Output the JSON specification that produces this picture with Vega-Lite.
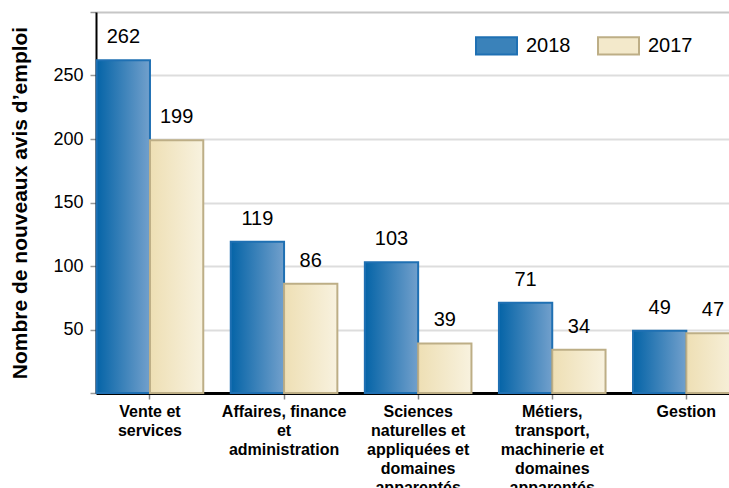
{
  "$schema": "https://vega.github.io/schema/vega-lite/v6.json",
  "autosize": {"type": "none"},
  "width": 633,
  "height": 381,
  "padding": {"left": 96, "top": 12, "right": 0, "bottom": 95},
  "config": {
    "font": "Liberation Sans",
    "view": {"stroke": null},
    "background": "#ffffff"
  },
  "data": {
    "values": [
      {"categorie": "Vente et|services", "annee": "2018", "valeur": 262},
      {"categorie": "Vente et|services", "annee": "2017", "valeur": 199},
      {"categorie": "Affaires, finance|et|administration", "annee": "2018", "valeur": 119},
      {"categorie": "Affaires, finance|et|administration", "annee": "2017", "valeur": 86},
      {"categorie": "Sciences|naturelles et|appliquées et|domaines|apparentés", "annee": "2018", "valeur": 103},
      {"categorie": "Sciences|naturelles et|appliquées et|domaines|apparentés", "annee": "2017", "valeur": 39},
      {"categorie": "Métiers,|transport,|machinerie et|domaines|apparentés", "annee": "2018", "valeur": 71},
      {"categorie": "Métiers,|transport,|machinerie et|domaines|apparentés", "annee": "2017", "valeur": 34},
      {"categorie": "Gestion", "annee": "2018", "valeur": 49},
      {"categorie": "Gestion", "annee": "2017", "valeur": 47}
    ]
  },
  "encoding": {
    "x": {
      "field": "categorie",
      "type": "nominal",
      "sort": null,
      "scale": {"range": [0, 644.3], "paddingInner": 0.205, "paddingOuter": 0.005},
      "axis": {
        "title": null,
        "labelAngle": 0,
        "labelExpr": "split(datum.label, '|')",
        "labelFontSize": 16,
        "labelFontWeight": "bold",
        "labelLineHeight": 19,
        "labelColor": "#000000",
        "labelPadding": 4,
        "labelLimit": 0,
        "tickSize": 6,
        "tickColor": "#888888",
        "tickWidth": 1.5,
        "domainColor": "#000000",
        "domainWidth": 3,
        "grid": false
      }
    },
    "xOffset": {
      "field": "annee",
      "type": "nominal",
      "scale": {"domain": ["2018", "2017"], "paddingInner": 0, "paddingOuter": 0}
    },
    "y": {
      "field": "valeur",
      "type": "quantitative",
      "scale": {"domain": [0, 300], "nice": false},
      "axis": {
        "title": "Nombre de nouveaux avis d’emploi",
        "titleFontSize": 21,
        "titleFontWeight": "bold",
        "titleColor": "#000000",
        "titlePadding": 22,
        "values": [0, 50, 100, 150, 200, 250, 300],
        "labelExpr": "datum.value == 0 || datum.value == 300 ? '' : datum.label",
        "labelFontSize": 18,
        "labelColor": "#000000",
        "labelPadding": 7,
        "tickSize": 6,
        "tickColor": "#999999",
        "tickWidth": 1.5,
        "domainColor": "#000000",
        "domainWidth": 2,
        "grid": true,
        "gridWidth": 2,
        "gridColor": {"condition": {"test": "datum.value == 300", "value": "#c6c6c6"}, "value": "#dddddd"}
      }
    }
  },
  "layer": [
    {
      "transform": [{"filter": "datum.annee == '2018'"}],
      "mark": {
        "type": "bar",
        "strokeWidth": 2,
        "stroke": "#1f70b3",
        "fill": {"gradient": "linear", "x1": 0, "y1": 0, "x2": 1, "y2": 0, "stops": [{"offset": 0, "color": "#0564a7"}, {"offset": 1, "color": "#72a0cc"}]}
      }
    },
    {
      "transform": [{"filter": "datum.annee == '2017'"}],
      "mark": {
        "type": "bar",
        "strokeWidth": 2,
        "stroke": "#bdae86",
        "fill": {"gradient": "linear", "x1": 0, "y1": 0, "x2": 1, "y2": 0, "stops": [{"offset": 0, "color": "#eedfb4"}, {"offset": 1, "color": "#f8f2df"}]}
      }
    },
    {
      "transform": [{"filter": "datum.valeur < 0"}],
      "mark": {"type": "bar", "strokeWidth": 2},
      "encoding": {
        "fill": {
          "field": "annee",
          "type": "nominal",
          "scale": {"domain": ["2018", "2017"], "range": ["#3a82ba", "#f3e9cb"]},
          "legend": {
            "title": null,
            "orient": "none",
            "legendX": 379,
            "legendY": 12,
            "direction": "horizontal",
            "columns": 2,
            "padding": 0,
            "symbolType": "M-1,-0.42H1V0.42H-1Z",
            "symbolSize": 1681,
            "symbolStrokeWidth": 2,
            "labelFontSize": 20,
            "labelColor": "#000000",
            "labelOffset": 8,
            "columnPadding": 23,
            "encode": {
              "symbols": {
                "update": {
                  "fill": [
                    {"test": "datum.value == '2018'", "value": {"gradient": "linear", "x1": 0, "y1": 0, "x2": 1, "y2": 0, "stops": [{"offset": 0, "color": "#0564a7"}, {"offset": 1, "color": "#72a0cc"}]}},
                    {"value": {"gradient": "linear", "x1": 0, "y1": 0, "x2": 1, "y2": 0, "stops": [{"offset": 0, "color": "#eedfb4"}, {"offset": 1, "color": "#f8f2df"}]}}
                  ]
                }
              }
            }
          }
        },
        "stroke": {
          "field": "annee",
          "type": "nominal",
          "scale": {"domain": ["2018", "2017"], "range": ["#1f70b3", "#bdae86"]}
        }
      }
    },
    {
      "mark": {"type": "text", "fontSize": 20, "color": "#000000", "baseline": "alphabetic", "dy": -17},
      "encoding": {
        "text": {"field": "valeur", "type": "quantitative"}
      }
    }
  ]
}
